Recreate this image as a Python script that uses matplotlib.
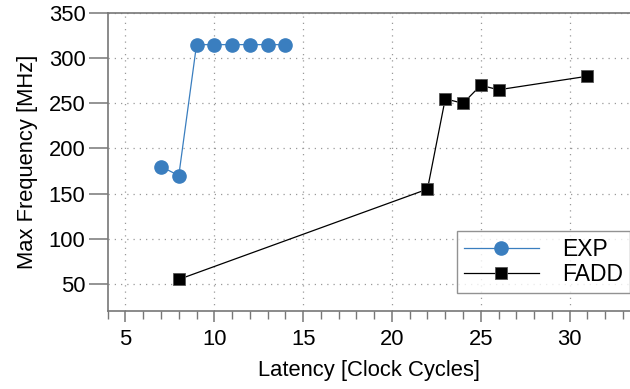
import matplotlib
matplotlib.use("Agg")
import matplotlib.pyplot as plt
from matplotlib.ticker import MultipleLocator

plt.rcParams['font.family'] = ['Liberation Sans', 'DejaVu Sans']

# EXP and FADD latency vs max frequency
exp_lat = [7, 8, 9, 10, 11, 12, 13, 14]
exp_freq = [180, 170, 315, 315, 315, 315, 315, 315]
fadd_lat = [8, 22, 23, 24, 25, 26, 31]
fadd_freq = [55, 155, 255, 250, 270, 265, 280]

fig = plt.figure(figsize=(6.3, 3.89), dpi=100)
ax = fig.add_axes([0.171, 0.2005, 0.829, 0.766])

grey = "#777777"
ax.plot(exp_lat, exp_freq, color="#3a7ebf", lw=0.9, marker="o", ms=9.5,
        label="EXP", zorder=3)
ax.plot(fadd_lat, fadd_freq, color="black", lw=0.9, marker="s", ms=9,
        mec="#555555", mew=0.6, label="FADD", zorder=3)

ax.set_xlim(4, 33.4)
ax.set_ylim(20, 350)
ax.xaxis.set_major_locator(MultipleLocator(5))
ax.xaxis.set_minor_locator(MultipleLocator(1))
ax.set_yticks([50, 100, 150, 200, 250, 300, 350])
ax.set_xticks(range(5, 31, 5))

ax.grid(True, which="major", color="#999999", ls=(0, (1, 4)), lw=0.9)

for s in ["left", "bottom", "top"]:
    ax.spines[s].set_color(grey)
    ax.spines[s].set_linewidth(1.2)
ax.spines["right"].set_visible(False)

ax.tick_params(axis="y", which="major", direction="out", length=14,
               width=1.1, color=grey, labelsize=15.8, pad=2)
ax.tick_params(axis="x", which="major", direction="out", length=8,
               width=1.1, color=grey, labelsize=15.8, pad=5)
ax.tick_params(axis="x", which="minor", direction="out", length=6,
               width=1.0, color=grey)

ax.set_xlabel("Latency [Clock Cycles]", fontsize=15.8, labelpad=7)
ax.set_ylabel("Max Frequency [MHz]", fontsize=15.8, labelpad=8)

leg = ax.legend(loc="lower right", bbox_to_anchor=(1.0, 0.06),
                fontsize=16.5, fancybox=False, edgecolor=grey,
                handlelength=3.3, borderpad=0.3, labelspacing=0.1,
                handletextpad=1.0, borderaxespad=0.0)
leg.get_frame().set_linewidth(1.0)

fig.savefig("out.png", dpi=100)
